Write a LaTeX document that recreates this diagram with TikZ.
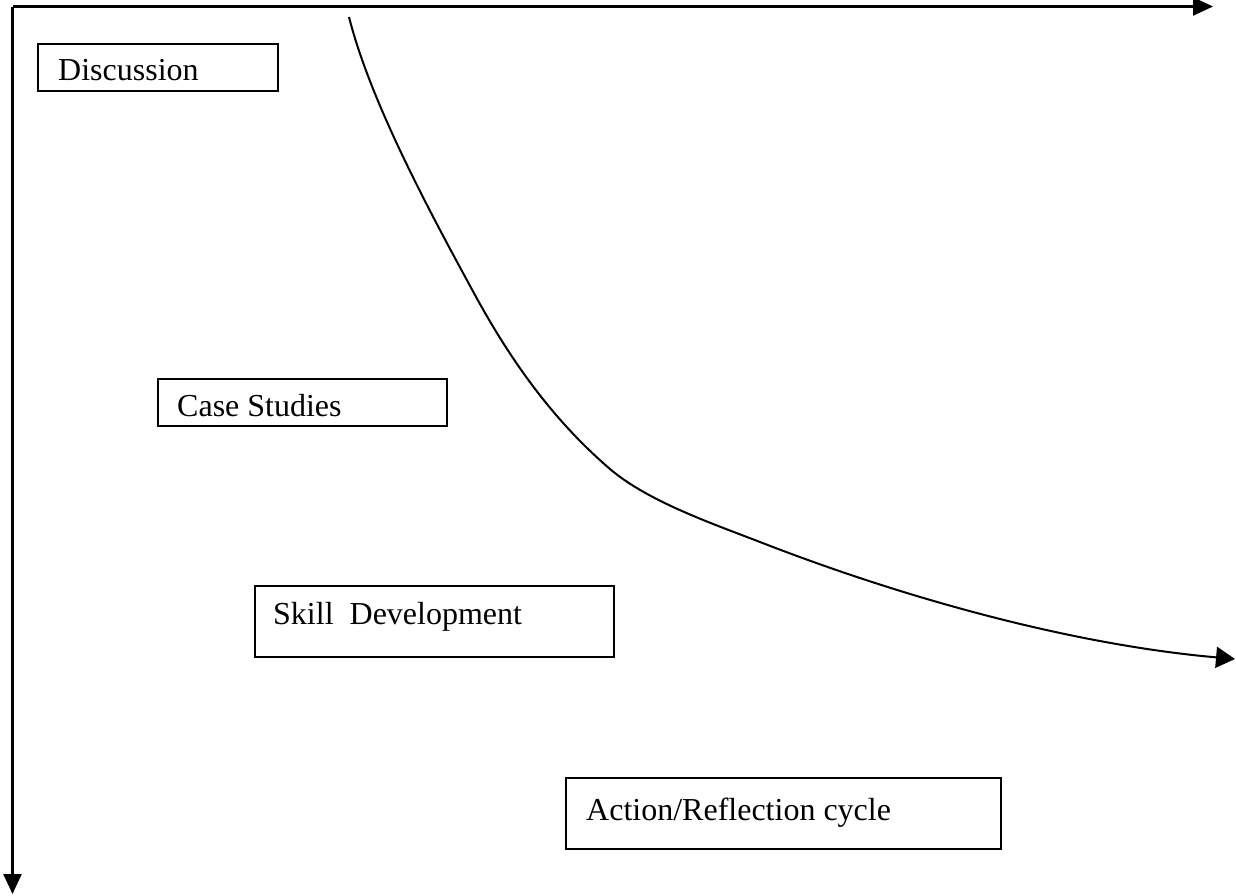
\documentclass[tikz,border=0pt]{standalone}
\usepackage{fontspec}
\setmainfont{Liberation Serif}
\usetikzlibrary{arrows.meta}
\begin{document}
\begin{tikzpicture}[x=1pt,y=-1pt,
  box/.style={draw, line width=1.6pt, inner sep=0pt, anchor=north west},
  lbl/.style={anchor=base west, inner sep=0pt, font=\fontsize{32}{36}\selectfont},
  axis/.style={line width=2.4pt, -{Triangle[length=20pt,width=18pt]}},
  curveline/.style={line width=2pt, -{Triangle[length=19pt,width=21pt]}}]
\useasboundingbox (0,0) rectangle (1236,895);
% axes
\coordinate (o) at (12.5,6.5);
\coordinate (xe) at (1213,6.5);
\coordinate (ye) at (12.5,894);
\draw[axis] (o) -- (xe);
\draw[axis] (o) -- (ye);
% boxes
\node[box, minimum width=240pt, minimum height=47pt] (discbox) at (37,43) {};
\node[lbl] (disc) at (58,80) {Discussion};
\node[box, minimum width=289pt, minimum height=47pt] (casebox) at (157,378) {};
\node[lbl] (case) at (177,416) {Case Studies};
\node[box, minimum width=359pt, minimum height=71pt] (skillbox) at (254,585) {};
\node[lbl] (skill) at (273,624) {Skill\ \ Development};
\node[box, minimum width=435pt, minimum height=71pt] (actbox) at (565,777) {};
\node[lbl] (act) at (586,820) {Action/Reflection cycle};
% curve
\coordinate (cs) at (349,17);
\coordinate (ce) at (1235,659);
\draw[curveline] (cs) .. controls (371,104) and (432,216) .. (475,295)
  .. controls (511,361) and (553,420) .. (610,469)
  .. controls (648,501.5) and (713.5,524) .. (760,542)
  .. controls (909,600) and (1076,645) .. (ce);
\end{tikzpicture}
\end{document}
